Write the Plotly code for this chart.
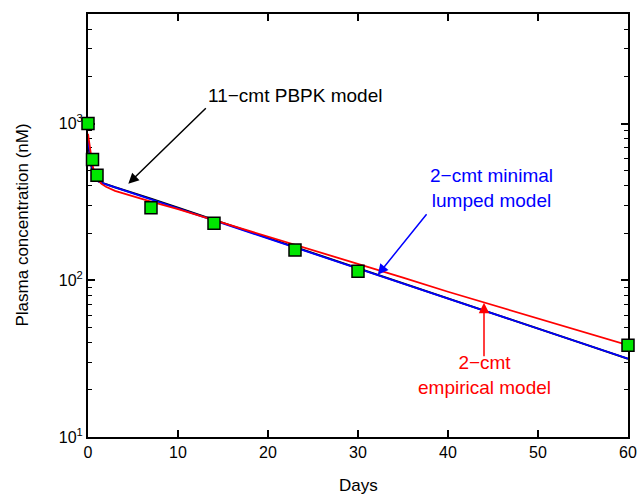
import plotly.graph_objects as go

# Observed data
obs_days = [0, 0.5, 1, 7, 14, 23, 30, 60]
obs_conc = [1000, 590, 468, 290, 231, 156, 114, 38.5]

# 11-cmt PBPK model (black)
pbpk_days = [0, 0.25, 0.5, 0.75, 1, 1.5, 3, 5, 7, 10, 15, 20, 25, 30, 35, 40, 45, 50, 55, 60]
pbpk_conc = [760, 580, 490, 448, 432, 420, 392, 362, 332, 290, 232, 186, 149, 119, 95.5, 76.4, 61.3, 49.1, 39.4, 31.6]

# 2-cmt minimal lumped model (blue)
lumped_days = [0, 0.25, 0.5, 0.75, 1, 1.5, 3, 5, 7, 10, 15, 20, 25, 30, 35, 40, 45, 50, 55, 60]
lumped_conc = [780, 600, 500, 450, 432, 418, 390, 358, 328, 287, 230, 185, 148, 119, 95.5, 76.4, 61.3, 49.1, 39.4, 31.6]

# 2-cmt empirical model (red)
emp_days = [0, 0.25, 0.5, 0.75, 1, 1.5, 2, 3, 5, 7, 10, 14, 20, 25, 30, 35, 40, 45, 50, 55, 60]
emp_conc = [860, 660, 540, 480, 445, 412, 395, 372, 343, 318, 284, 242, 190, 156, 128, 104, 84.5, 69.5, 57.0, 46.8, 38.5]

# Axis ticks
x_ticks = [0, 10, 20, 30, 40, 50, 60]
y_tickvals = [10, 100, 1000]
y_ticktext = ["10<sup>1</sup>", "10<sup>2</sup>", "10<sup>3</sup>"]
y_minor = [m * d for d in (10, 100, 1000) for m in range(2, 10) if m * d <= 5000]

font_main = "Liberation Sans, Arial, sans-serif"

fig = go.Figure()
fig.add_trace(go.Scatter(x=pbpk_days, y=pbpk_conc, mode="lines",
                         line=dict(color="black", width=2), showlegend=False))
fig.add_trace(go.Scatter(x=lumped_days, y=lumped_conc, mode="lines",
                         line=dict(color="#0000ff", width=1.8), showlegend=False))
fig.add_trace(go.Scatter(x=emp_days, y=emp_conc, mode="lines",
                         line=dict(color="#ff0000", width=1.8), showlegend=False))
fig.add_trace(go.Scatter(x=obs_days, y=obs_conc, mode="markers",
                         marker=dict(symbol="square", size=12, color="#00e600",
                                     line=dict(color="black", width=1.5)),
                         showlegend=False, cliponaxis=False))

# Annotations: arrows
fig.add_annotation(x=4.48, y=2.616, xref="x", yref="y", ax=79, ay=-77,
                   text="", showarrow=True, arrowhead=2, arrowsize=1.4,
                   arrowwidth=1.5, arrowcolor="black")
fig.add_annotation(x=32.2, y=2.035, xref="x", yref="y", ax=50, ay=-62,
                   text="", showarrow=True, arrowhead=2, arrowsize=1.4,
                   arrowwidth=1.5, arrowcolor="#0000ff")
fig.add_annotation(x=44.0, y=1.856, xref="x", yref="y", ax=0, ay=55,
                   text="", showarrow=True, arrowhead=2, arrowsize=1.4,
                   arrowwidth=1.5, arrowcolor="#ff0000")

# Annotations: labels
fig.add_annotation(x=23.0, y=3.178, xref="x", yref="y", text="11\u2212cmt PBPK model",
                   showarrow=False, font=dict(family=font_main, size=19, color="black"))
fig.add_annotation(x=44.8, y=2.586, xref="x", yref="y",
                   text="2\u2212cmt minimal<br>lumped model",
                   showarrow=False, font=dict(family=font_main, size=19, color="#0000ff"))
fig.add_annotation(x=44.0, y=1.395, xref="x", yref="y",
                   text="2\u2212cmt<br>empirical model",
                   showarrow=False, font=dict(family=font_main, size=19, color="#ff0000"))

# Axis titles as paper annotations
fig.add_annotation(x=0.5, y=-57 / 423, xref="paper", yref="paper", yshift=9,
                   text="Days", showarrow=False, yanchor="middle",
                   font=dict(family=font_main, size=17, color="black"))
fig.add_annotation(x=-66 / 540, y=0.5, xref="paper", yref="paper",
                   text="Plasma concentration (nM)", showarrow=False, textangle=-90,
                   xanchor="center", font=dict(family=font_main, size=17, color="black"))

fig.update_xaxes(range=[0, 60], tickvals=x_ticks, ticks="inside", ticklen=7,
                 tickwidth=1.5, tickcolor="black",
                 showline=True, linewidth=2, linecolor="black", mirror="ticks",
                 showgrid=False, zeroline=False, layer="below traces", automargin=False,
                 tickfont=dict(family=font_main, size=16, color="black"))
fig.update_yaxes(type="log", range=[1, 3.699], tickvals=y_tickvals, ticktext=y_ticktext,
                 ticks="inside", ticklen=7, tickwidth=1.5, tickcolor="black",
                 minor=dict(tickmode="array", tickvals=y_minor, ticks="inside", ticklen=4,
                            tickwidth=1, tickcolor="black", showgrid=False),
                 showline=True, linewidth=2, linecolor="black", mirror="ticks",
                 showgrid=False, zeroline=False, layer="below traces", automargin=False,
                 tickfont=dict(family=font_main, size=16, color="black"))

fig.update_layout(width=638, height=494,
                  margin=dict(l=88, r=10, t=14, b=57),
                  paper_bgcolor="white", plot_bgcolor="white",
                  font=dict(family=font_main, size=16, color="black"))

fig.write_html("out.html")
